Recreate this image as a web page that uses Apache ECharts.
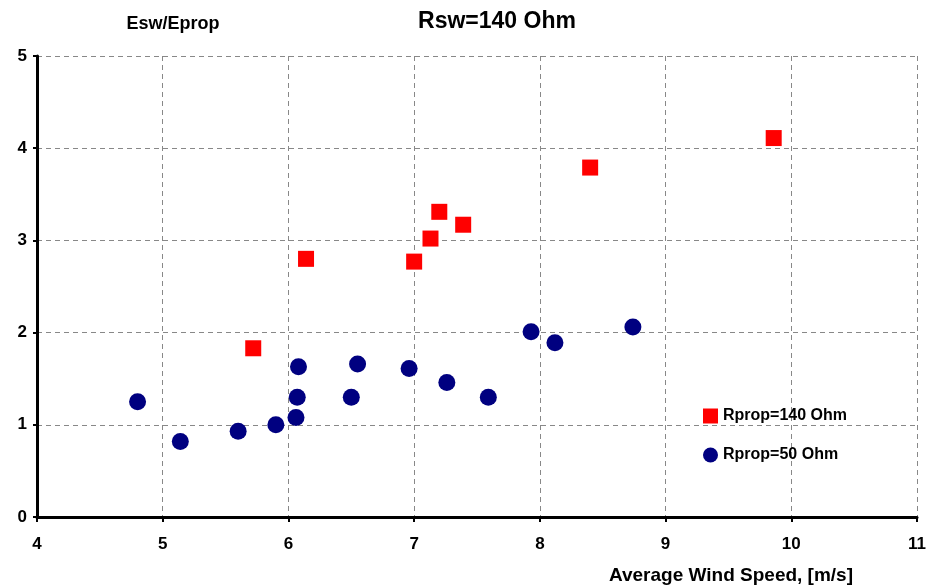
<!DOCTYPE html>
<html>
<head>
<meta charset="utf-8">
<script src="https://cdn.jsdelivr.net/npm/echarts@6/dist/echarts.min.js"></script>
<style>html,body{margin:0;padding:0;background:#fff;}#c{width:929px;height:588px;}</style>
</head>
<body>
<div id="c"></div>
<script>
var xTicks = [4, 5, 6, 7, 8, 9, 10, 11];
var yTicks = [0, 1, 2, 3, 4, 5];
var red140 = [[5.72,1.83],[6.14,2.80],[7.00,2.77],[7.13,3.02],[7.20,3.31],[7.39,3.17],[8.40,3.79],[9.86,4.11]];
var blue50 = [[4.80,1.25],[5.14,0.82],[5.60,0.93],[5.90,1.00],[6.06,1.08],[6.07,1.30],[6.08,1.63],[6.50,1.30],[6.55,1.66],[6.96,1.61],[7.26,1.46],[7.59,1.30],[7.93,2.01],[8.12,1.89],[8.74,2.06]];
var FF = '"Liberation Sans Narrow","Liberation Sans",Arial,sans-serif';
var chart = echarts.init(document.getElementById('c'));
chart.setOption({
  backgroundColor: '#fff',
  animation: false,
  title: [
    {text: 'Rsw=140 Ohm', left: 492, top: 5, textAlign: 'center',
     textStyle: {fontFamily: '"Liberation Sans",Arial,sans-serif', fontSize: 23, fontWeight: 'bold', color: '#000'}},
    {text: 'Esw/Eprop', left: 168, top: 10, textAlign: 'center',
     textStyle: {fontFamily: FF, fontSize: 18, fontWeight: 'bold', color: '#000'}}
  ],
  legend: {
    orient: 'vertical', left: 698, top: 403, itemGap: 23, itemWidth: 15, itemHeight: 15,
    textStyle: {fontFamily: '"Liberation Sans",Arial,sans-serif', fontSize: 16, fontWeight: 'bold', color: '#000'},
    data: [{name: 'Rprop=140 Ohm', icon: 'rect'}, {name: 'Rprop=50 Ohm', icon: 'circle'}]
  },
  grid: {left: 37, right: 7, top: 56, bottom: 71},
  xAxis: {
    type: 'value', min: xTicks[0], max: xTicks[xTicks.length-1], interval: 1,
    name: 'Average Wind Speed, [m/s]', nameLocation: 'end', nameGap: 0,
    nameTextStyle: {fontFamily: FF, fontSize: 19, fontWeight: 'bold', color: '#000', align: 'right', verticalAlign: 'top', padding: [49, 64, 0, 0]},
    axisLine: {lineStyle: {color: '#000', width: 3}},
    axisTick: {show: true, length: 5, lineStyle: {color: '#000', width: 2}},
    axisLabel: {fontFamily: FF, fontSize: 17, fontWeight: 'bold', color: '#000', margin: 19},
    splitLine: {show: true, lineStyle: {color: '#888', type: [5, 4], width: 1}}
  },
  yAxis: {
    type: 'value', min: yTicks[0], max: yTicks[yTicks.length-1], interval: 1,
    axisLine: {show: true, lineStyle: {color: '#000', width: 3}},
    axisTick: {show: true, length: 4, lineStyle: {color: '#000', width: 2}},
    axisLabel: {fontFamily: FF, fontSize: 17, fontWeight: 'bold', color: '#000', margin: 10},
    splitLine: {show: true, lineStyle: {color: '#888', type: [5, 4], width: 1}}
  },
  series: [
    {name: 'Rprop=140 Ohm', type: 'scatter', symbol: 'rect', symbolSize: 16, data: red140, itemStyle: {color: '#ff0000', opacity: 1}},
    {name: 'Rprop=50 Ohm', type: 'scatter', symbol: 'circle', symbolSize: 17, data: blue50, itemStyle: {color: '#000080', opacity: 1}}
  ]
});
</script>
</body>
</html>
